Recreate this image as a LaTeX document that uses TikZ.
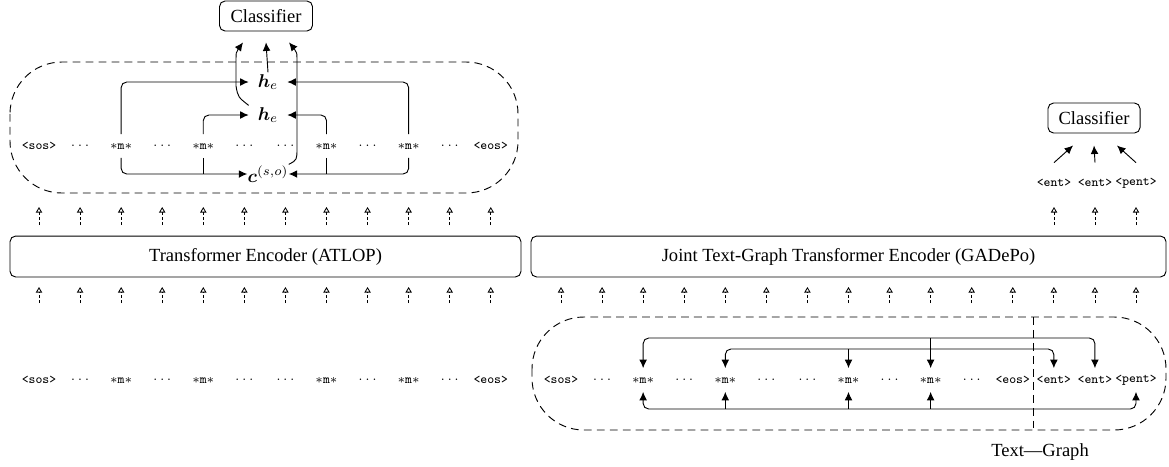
\documentclass[tikz,border=0pt]{standalone}
\usepackage{amsmath}
\usepackage{fontspec}
\setmainfont{Liberation Serif}
\usetikzlibrary{arrows.meta,calc}
\newcommand{\mtok}{$\ast$m$\ast$}
\newcommand{\dtok}{$\ldots$}
\tikzset{
  tok/.style={font=\fontsize{7}{8}\selectfont\ttfamily, inner sep=0pt, minimum height=12.4pt, anchor=center},
  box/.style={draw, rounded corners=3pt, line width=0.5pt, font=\fontsize{10}{12}\selectfont, inner sep=0pt},
  arr/.style={-{Latex[length=4.6pt,width=4.2pt]}, line width=0.5pt},
  arrtwo/.style={{Latex[length=4.6pt,width=4.2pt]}-{Latex[length=4.6pt,width=4.2pt]}, line width=0.5pt},
  ln/.style={line width=0.5pt},
  darr/.style={-{Triangle[open,length=3pt,width=3.4pt]}, line width=0.45pt, dash pattern=on 1.6pt off 1.2pt},
  dbox/.style={line width=0.5pt, dash pattern=on 4.2pt off 2.8pt, rounded corners=28pt},
  dline/.style={line width=0.5pt, dash pattern=on 4.2pt off 2.8pt},
  mathn/.style={inner sep=0pt, minimum width=20.5pt, minimum height=10pt, font=\fontsize{10}{12}\selectfont}
}
\begin{document}
\begin{tikzpicture}[x=0.54pt,y=-0.54pt]
\useasboundingbox (0,0) rectangle (1169,466);
% helper levels
\coordinate (yA) at (0,225);
\coordinate (yB) at (0,207);
\coordinate (yC) at (0,303);
\coordinate (yD) at (0,287);
\coordinate (yOut) at (0,338);
\coordinate (yIn) at (0,349);
\coordinate (yBot) at (0,409);
\coordinate (yTop) at (0,317);
\coordinate (yLow) at (0,430);

% ---------------- left panel ----------------
\node[box, minimum width=50.2pt, minimum height=16.2pt] (C1) at (266,16) {Classifier};
\draw[dbox] (10,62) rectangle (518,193);

\foreach \i/\t in {0/{<sos>},1/{\dtok},2/{\mtok},3/{\dtok},4/{\mtok},5/{\dtok},6/{\dtok},7/{\mtok},8/{\dtok},9/{\mtok},10/{\dtok},11/{<eos>}}{
  \node[tok] (L\i) at ({39+41.07*\i},146) {\t};
  \node[tok] (B\i) at ({39+41.07*\i},380) {\t};
}

\node[mathn] (he1) at (268,82) {$\boldsymbol{h}_e$};
\node[mathn] (he2) at (268,115) {$\boldsymbol{h}_e$};
\node[mathn] (cso) at (268,174) {$\boldsymbol{c}^{(s,o)}$};

\draw[arr, rounded corners=3pt] (L2.north) |- (he1.west);
\draw[arr, rounded corners=3pt] (L9.north) |- (he1.east);
\draw[arr, rounded corners=3pt] (L4.north) |- (he2.west);
\draw[arr, rounded corners=3pt] (L7.north) |- (he2.east);
\draw[arr, rounded corners=3pt] (L2.south) |- (cso.west);
\draw[arr, rounded corners=3pt] (L9.south) |- (cso.east);
\draw[ln] (L4.south) -- (L4.south |- cso.west);
\draw[ln] (L7.south) -- (L7.south |- cso.east);

\draw[arr] (he1.north) -- ([yshift=-5.9pt]C1.south);
\draw[arr] (he2.north west) .. controls (238,97) .. (236,86) -- (236,64) .. controls (236,52) .. ([xshift=-12.4pt,yshift=-5.9pt]C1.south);
\draw[arr] (cso.north east) .. controls (297,160) .. (297,148) -- (297,64) .. controls (297,52) .. ([xshift=12.4pt,yshift=-5.9pt]C1.south);

\node[box, minimum width=275.9pt, minimum height=22.1pt] (EncL) at (265.5,256.5) {Transformer Encoder (ATLOP)};

\foreach \i in {0,...,11}{
  \draw[darr] (L\i |- yA) -- (L\i |- yB);
  \draw[darr] (L\i |- yC) -- (L\i |- yD);
}

% ---------------- right panel ----------------
\node[box, minimum width=49.7pt, minimum height=16.2pt] (C2) at (1094,118) {Classifier};
\node[tok] (E1) at (1054,183) {<ent>};
\node[tok] (E2) at (1095,183) {<ent>};
\node[tok] (E3) at (1136,183) {<pent>};
\draw[arr] ([yshift=4.6pt]E1.north) -- ([xshift=-11.3pt,yshift=-6.5pt]C2.south);
\draw[arr] ([yshift=4.6pt]E2.north) -- ([yshift=-6.5pt]C2.south);
\draw[arr] ([yshift=4.6pt]E3.north) -- ([xshift=12.4pt,yshift=-6.5pt]C2.south);
\foreach \i in {1,2,3}{
  \draw[darr] (E\i |- yA) -- (E\i |- yB);
}

\node[box, minimum width=342.9pt, minimum height=22.1pt] (EncR) at (848.5,256.5) {Joint Text-Graph Transformer Encoder (GADePo)};

\draw[dbox] (532,317) rectangle (1166,430);

\foreach \i/\t in {0/{<sos>},1/{\dtok},2/{\mtok},3/{\dtok},4/{\mtok},5/{\dtok},6/{\dtok},7/{\mtok},8/{\dtok},9/{\mtok},10/{\dtok},11/{<eos>},12/{<ent>},13/{<ent>},14/{<pent>}}{
  \node[tok] (R\i) at ({561+41.07*\i},380) {\t};
}
\foreach \i in {0,...,14}{
  \draw[darr] (R\i |- yC) -- (R\i |- yD);
}

\coordinate (divmid) at ($(R11)!0.5!(R12)$);
\draw[dline] (divmid |- yTop) -- (divmid |- yLow);

\draw[arrtwo, rounded corners=3pt] (R2.north) |- (R13.north |- yOut) -- (R13.north);
\draw[arr] (R9 |- yOut) -- (R9.north);
\draw[arrtwo, rounded corners=3pt] (R4.north) |- (R12.north |- yIn) -- (R12.north);
\draw[arr] (R7 |- yIn) -- (R7.north);
\draw[arrtwo, rounded corners=3pt] (R2.south) |- (R14.south |- yBot) -- (R14.south);
\draw[arr] (R4 |- yBot) -- (R4.south);
\draw[arr] (R7 |- yBot) -- (R7.south);
\draw[arr] (R9 |- yBot) -- (R9.south);

\node[font=\fontsize{10}{12}\selectfont, inner sep=0pt] (tg) at (1040,452) {Text—Graph};
\end{tikzpicture}
\end{document}
